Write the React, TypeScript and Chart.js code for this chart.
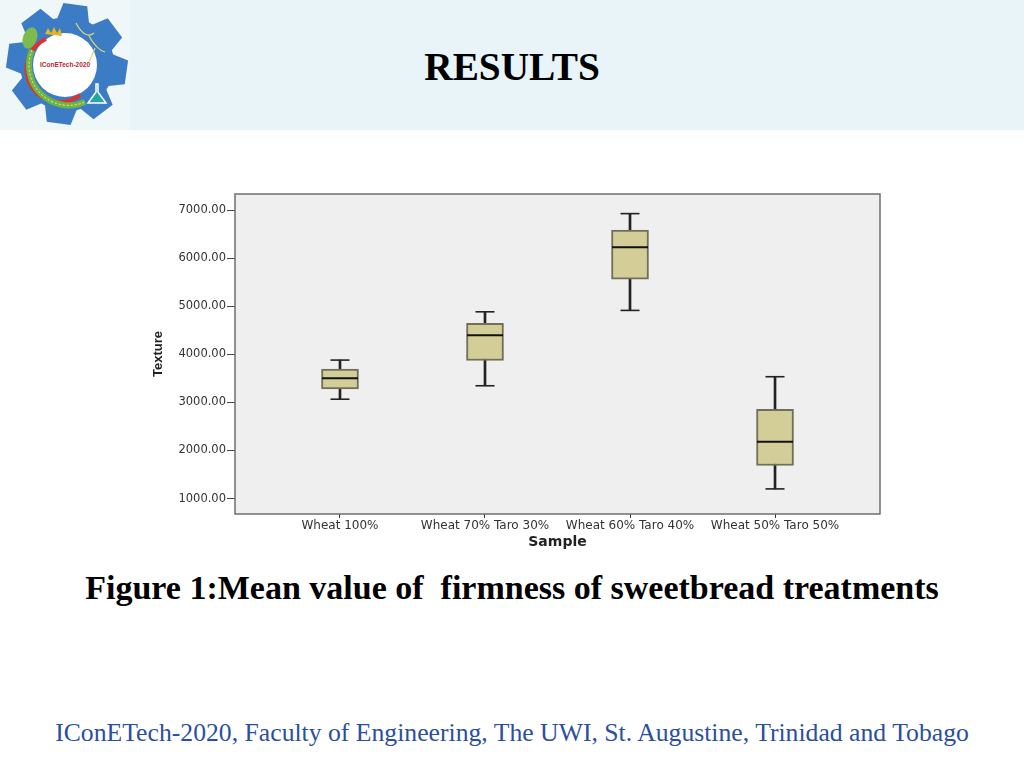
import React, { useEffect, useRef } from "react";
import { Chart, registerables } from "chart.js";

Chart.register(...registerables);

const categories = ["Wheat 100%", "Wheat 70% Taro 30%", "Wheat 60% Taro 40%", "Wheat 50% Taro 50%"];
const positions = [0, 1, 2, 3];
const whiskerLow = [3065, 3345, 4912, 1200];
const quartile1 = [3279, 3870, 5563, 1686];
const medians = [3503, 4395, 6228, 2180];
const quartile3 = [3694, 4642, 6582, 2853];
const whiskerHigh = [3879, 4883, 6925, 3533];
const yTicks = [1000, 2000, 3000, 4000, 5000, 6000, 7000];

const INK = "#222222";

const plotFrame = {
  id: "plotFrame",
  beforeDatasetsDraw(chart: any) {
    const { ctx, chartArea: a } = chart;
    ctx.save();
    ctx.fillStyle = "#efefef";
    ctx.fillRect(a.left, a.top, a.width, a.height);
    ctx.restore();
  },
  afterDraw(chart: any) {
    const { ctx, chartArea: a } = chart;
    ctx.save();
    ctx.strokeStyle = "#6f6f6f";
    ctx.lineWidth = 1.5;
    ctx.strokeRect(a.left, a.top, a.width, a.height);
    ctx.restore();
  },
};

function gearTeeth() {
  const angles = [0, 45, 90, 135, 180, 225, 270, 315];
  return angles.map((a) => (
    <path key={a} d="M -17 -40 L -12 -60 L 12 -60 L 17 -40 Z" fill="#3b7cc4" transform={`rotate(${a + 8})`} />
  ));
}

function Logo() {
  return (
    <svg width={140} height={130} viewBox="0 0 140 130" style={{ position: "absolute", left: 0, top: 0 }}>
      <rect x={0} y={0} width={130} height={130} fill="#f0f7f8" />
      <g transform="translate(67,64)">
        {gearTeeth()}
        <circle r={47} fill="#3b7cc4" />
        <circle cx={-2} cy={1} r={32} fill="#ffffff" />
        <path d="M 13 31 A 33 33 0 1 1 -21 -25" fill="none" stroke="#e2302c" strokeWidth={4} />
        <path d="M -35 -14 A 40 40 0 0 0 18 38" fill="none" stroke="#6fb544" strokeWidth={6} />
        <path d="M -35 -14 A 40 40 0 0 0 18 38" fill="none" stroke="#f4f0a0" strokeWidth={1} strokeDasharray="2 2" />
        <ellipse cx={-37} cy={-26} rx={7} ry={11} fill="#7dbb4f" transform="rotate(20 -37 -26)" />
        <path d="M -22 -30 l 3 -6 l 3 5 l 3 -6 l 3 6 l 3 -5 l 2 8 z" fill="#e8b423" />
        <text x={-2} y={3} textAnchor="middle" fontFamily="'Liberation Sans'" fontWeight="bold" fontSize={6.5} fill="#b8262e">IConETech-2020</text>
        <path d="M 29 20 l 0 8 l -8 11 l 18 0 l -8 -11 l 0 -8 z" fill="#27a7a2" stroke="#ffffff" strokeWidth={1.5} />
        <path d="M 9 -41 Q 18 -24 27 -31 M 22 -28 Q 30 -14 38 -12 M 28 -16 L 22 -2" fill="none" stroke="#e6d873" strokeWidth={1.2} />
      </g>
    </svg>
  );
}

const overlayText = (top: number, extra: React.CSSProperties): React.CSSProperties => ({
  position: "absolute",
  left: 0,
  width: 1024,
  top,
  textAlign: "center",
  fontFamily: "'Liberation Serif'",
  whiteSpace: "nowrap",
  ...extra,
});

export default function App() {
  const ref = useRef<HTMLCanvasElement>(null);

  useEffect(() => {
    const chart = new Chart(ref.current as HTMLCanvasElement, {
      type: "bar",
      data: {
        datasets: [
          {
            label: "Whisker",
            data: positions.map((x, i) => ({ x, y: [whiskerLow[i], whiskerHigh[i]] })),
            backgroundColor: INK,
            barThickness: 2,
            grouped: false,
            order: 3,
          },
          {
            label: "Box",
            data: positions.map((x, i) => ({ x, y: [quartile1[i], quartile3[i]] })),
            backgroundColor: "#d3ce97",
            borderColor: "#70705a",
            borderWidth: 2,
            borderSkipped: false,
            barThickness: 37,
            grouped: false,
            order: 2,
          },
          {
            type: "scatter",
            label: "Median",
            data: positions.map((x, i) => ({ x, y: medians[i] })),
            pointStyle: "line",
            pointRadius: 18,
            pointBorderColor: "#111111",
            pointBorderWidth: 2,
            order: 1,
          },
          {
            type: "scatter",
            label: "High",
            data: positions.map((x, i) => ({ x, y: whiskerHigh[i] })),
            pointStyle: "line",
            pointRadius: 9.5,
            pointBorderColor: INK,
            pointBorderWidth: 1.6,
            order: 1,
          },
          {
            type: "scatter",
            label: "Low",
            data: positions.map((x, i) => ({ x, y: whiskerLow[i] })),
            pointStyle: "line",
            pointRadius: 9.5,
            pointBorderColor: INK,
            pointBorderWidth: 1.6,
            order: 1,
          },
        ] as any,
      },
      options: {
        animation: false,
        responsive: false,
        layout: { autoPadding: false, padding: { top: 14, right: 10, left: 0, bottom: 0 } },
        plugins: { legend: { display: false }, tooltip: { enabled: false } },
        scales: {
          x: {
            type: "linear",
            offset: false,
            min: -0.724,
            max: 3.724,
            afterBuildTicks: (s: any) => {
              s.ticks = positions.map((value) => ({ value }));
            },
            afterFit: (s: any) => {
              s.height = 41;
            },
            grid: { offset: false, drawOnChartArea: false, drawTicks: true, tickLength: 4, color: "#333333" },
            border: { display: false },
            ticks: {
              autoSkip: false,
              maxRotation: 0,
              padding: 1,
              color: "#333333",
              font: { family: "'DejaVu Sans'", size: 12 },
              callback: (v: any) => categories[v],
            },
            title: {
              display: true,
              text: "Sample",
              color: "#222222",
              padding: { top: 0, bottom: 4 },
              font: { family: "'DejaVu Sans'", size: 14, weight: "bold" },
            },
          },
          y: {
            min: 678,
            max: 7333,
            afterBuildTicks: (s: any) => {
              s.ticks = yTicks.map((value) => ({ value }));
            },
            afterFit: (s: any) => {
              s.width = 85;
            },
            grid: { drawOnChartArea: false, drawTicks: true, tickLength: 8, color: "#444444" },
            border: { display: false },
            ticks: {
              padding: 1,
              color: "#333333",
              font: { family: "'DejaVu Sans'", size: 11.5 },
              callback: (v: any) => Number(v).toFixed(2),
            },
            title: {
              display: true,
              text: "Texture",
              color: "#222222",
              padding: { top: 1, bottom: 0 },
              font: { family: "'Liberation Sans'", size: 13, weight: "bold" },
            },
          },
        },
      } as any,
      plugins: [plotFrame],
    });
    return () => chart.destroy();
  }, []);

  return (
    <div style={{ position: "fixed", left: 0, top: 0, width: 1024, height: 768, background: "#ffffff", overflow: "hidden" }}>
      <div style={{ position: "absolute", left: 0, top: 0, width: 1024, height: 130, background: "#e8f4f7" }} />
      <Logo />
      <div style={overlayText(43, { fontSize: 39.3, lineHeight: "48px", fontWeight: "bold", color: "#000000" })}>RESULTS</div>
      <canvas ref={ref} width={740} height={375} style={{ position: "absolute", left: 150, top: 180, width: 740, height: 375 }} />
      <div style={overlayText(568, { fontSize: 34, lineHeight: "40px", fontWeight: "bold", color: "#000000" })}>
        Figure 1:Mean value of&nbsp; firmness of sweetbread treatments
      </div>
      <div style={overlayText(717, { fontSize: 25.7, lineHeight: "32px", color: "#2b4f9e" })}>
        IConETech-2020, Faculty of Engineering, The UWI, St. Augustine, Trinidad and Tobago
      </div>
    </div>
  );
}
